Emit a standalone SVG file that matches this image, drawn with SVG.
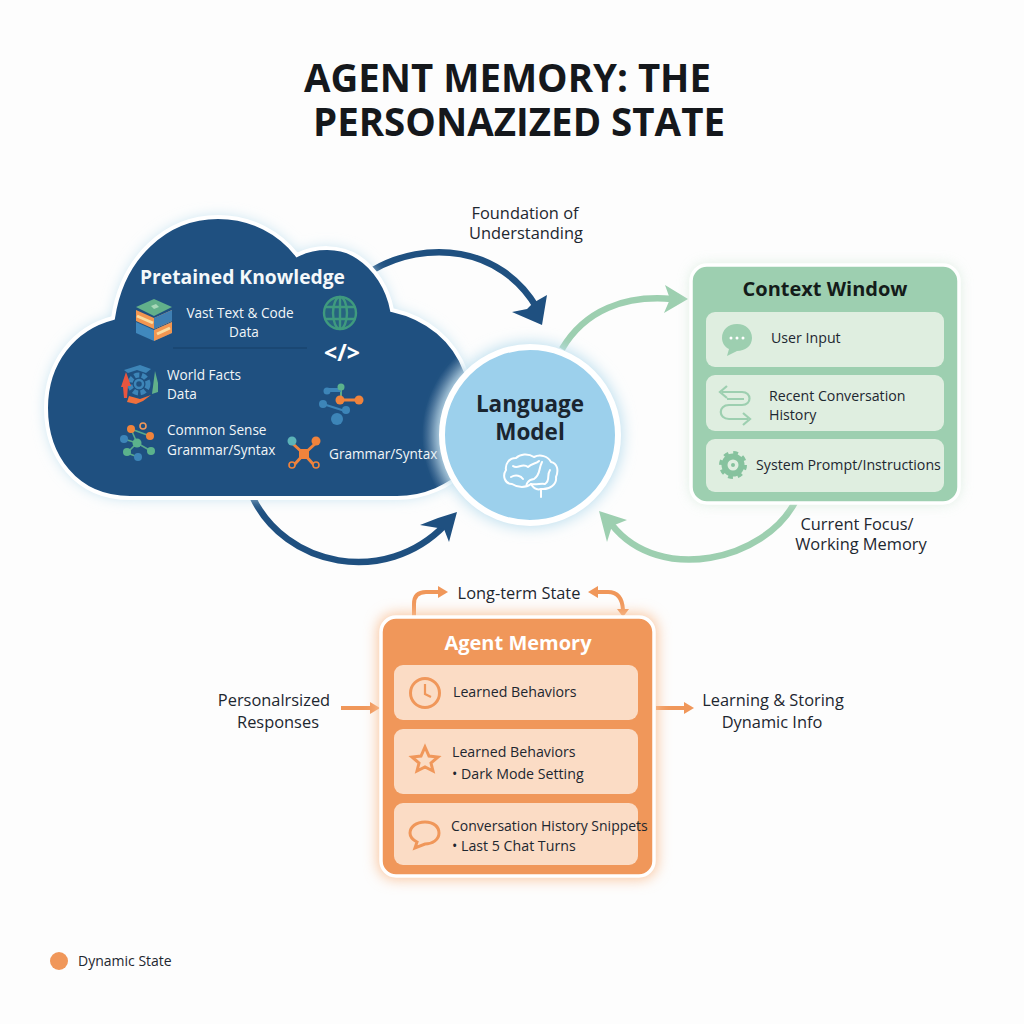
<svg xmlns="http://www.w3.org/2000/svg" width="1024" height="1024" viewBox="0 0 1024 1024">
<defs>
<style>
text{font-family:"Open Sans","Noto Sans","Liberation Sans",sans-serif;fill:#1d2730}
.t{font-size:14.2px}.w{fill:#f2f6f8;font-size:13.6px}
.b{font-size:16.4px}
.row{fill:#dfeee0}.orow{fill:#fbdcc5}
.na{fill:none;stroke:#1f5080;stroke-width:6.5}
.ga{fill:none;stroke:#9dcfb0;stroke-width:6.5}
.oa{fill:none;stroke:#f0975a;stroke-width:4}
.gi{fill:none;stroke:#9dcfb0;stroke-width:3}
.oi{fill:none;stroke:#f0975a;stroke-width:3}
</style>
<filter id="glow" x="-20%" y="-20%" width="140%" height="140%"><feGaussianBlur stdDeviation="7"/></filter>
<radialGradient id="halo" gradientUnits="userSpaceOnUse" cx="530" cy="435" r="108"><stop offset=".78" stop-color="#dbe8ef" stop-opacity=".6"/><stop offset="1" stop-color="#dbe8ef" stop-opacity="0"/></radialGradient>
<path id="cloud" d="M130 498C75 498 46 455 46 408C46 362 74 328 113 318C122 258 165 217 218 217C252 217 280 233 297 255C315 246 340 245 358 257C375 268 388 288 392 310C428 318 454 340 466 372L466 470C450 486 425 498 397 498Z"/>
<clipPath id="cloudclip"><use href="#cloud"/></clipPath>
</defs>
<rect width="1024" height="1024" fill="#fdfdfd"/>
<g style="font-size:39px;font-weight:700">
<text x="304" y="92" textLength="407" lengthAdjust="spacingAndGlyphs" style="fill:#15181c">AGENT MEMORY: THE</text>
<text x="313" y="136" textLength="412" lengthAdjust="spacingAndGlyphs" style="fill:#15181c">PERSONAZIZED STATE</text>
</g>

<g id="connectors">
<path class="na" d="M373 270C425 240 500 245 537 308"/>
<path fill="#1f5080" d="M547 295L542 325L512 312L527 309L533 303Z"/>
<path class="na" d="M252 496C285 567 385 587 445 525"/>
<path fill="#1f5080" d="M457 512L449 542L444 529L420 525L438 518Z"/>
<path class="ga" d="M562 349C585 310 625 295 672 299"/>
<path fill="#9dcfb0" d="M665 285L688 299L664 313L670 299Z"/>
<path class="ga" d="M795 502C765 560 660 585 612 525"/>
<path fill="#9dcfb0" d="M599 511L627 520L612 526L607 542Z"/>
<path class="oa" d="M414 616V604Q414 592 426 592H440"/>
<path fill="#f0975a" d="M438 586L448 592L438 598Z"/>
<path class="oa" d="M596 592H608Q622 592 623 610"/>
<path fill="#f0975a" d="M598 586L588 592L598 598ZM617 609H629L623 617Z"/>
<path class="oa" d="M341 708H370"/><path fill="#f0975a" d="M370 702L380 708L370 714Z"/>
<path class="oa" d="M656 708H684"/><path fill="#f0975a" d="M684 702L694 708L684 714Z"/>
</g>

<g id="pretained-knowledge">
<use href="#cloud" fill="#bfe0ef" filter="url(#glow)"/>
<use href="#cloud" fill="#1f5080" stroke="#fff" stroke-width="4"/>
<circle cx="530" cy="435" r="108" fill="url(#halo)" clip-path="url(#cloudclip)"/>
<text x="140" y="284" textLength="205" lengthAdjust="spacingAndGlyphs" style="font-size:20px;font-weight:700;fill:#f4f8fa">Pretained Knowledge</text>
<text x="240" y="318" text-anchor="middle" class="w">Vast Text &amp; Code</text>
<text x="244" y="337" text-anchor="middle" class="w">Data</text>
<path d="M173 348H307" stroke="#173f67" stroke-width="1.2"/>
<text x="167" y="380" class="w">World Facts</text><text x="167" y="399" class="w">Data</text>
<text x="167" y="435" class="w">Common Sense</text><text x="167" y="455" class="w">Grammar/Syntax</text>
<text x="329" y="459" class="w">Grammar/Syntax</text>
<g>
<path d="M136 322L154 330L172 322V333L154 341L136 333Z" fill="#4088bd"/>
<path d="M154 330L172 322V333L154 341Z" fill="#f29650"/>
<path d="M157 334L170 328" stroke="#f8dca0" stroke-width="3"/>
<path d="M136 310L154 318L172 310V321L154 329L136 321Z" fill="#f29650"/>
<path d="M154 318L172 310V321L154 329Z" fill="#3f7fb3"/>
<path d="M137 316L153 323" stroke="#f8dca0" stroke-width="3"/>
<path d="M136 307L154 299L172 307L154 316Z" fill="#62b08a"/>
<path d="M151 306L156 304L159 307L154 309Z" fill="#a8d8b8"/>
</g>
<g fill="none" stroke="#3f9a7e" stroke-width="2.4">
<circle cx="340" cy="313" r="16" fill="#3f9a7e" fill-opacity=".25"/>
<ellipse cx="340" cy="313" rx="7" ry="16"/><path d="M340 297V329M325 307H355M325 319H355"/>
</g>
<text x="342" y="361" text-anchor="middle" style="font-size:23px;font-weight:700;fill:#fff">&lt;/&gt;</text>
<g>
<circle cx="139" cy="384" r="9" fill="none" stroke="#3d85b8" stroke-width="5" stroke-dasharray="5 2.5"/>
<circle cx="139" cy="384" r="4" fill="none" stroke="#3d85b8" stroke-width="2.5"/>
<path d="M121 387L126 372L131 386H128L127 398H124L123 387Z" fill="#e8553f"/>
<path d="M152 394L155 371L158 383L158 392Z" fill="#62b08a"/>
<path d="M129 396L140 399L151 395L143 401L136 404L127 402Z" fill="#f0703c"/>
<path d="M124 370L140 365L151 369L146 373L137 370L128 373Z" fill="#3d85b8"/>
</g>
<g stroke-width="1.6" fill="none">
<path d="M137 443L131 429M137 443L127 453M137 443L151 451M127 453L138 457M124 439L137 443M131 429L150 436" stroke="#5aa98a"/>
<circle cx="143" cy="426" r="3" stroke="#f0975a"/>
</g>
<g>
<circle cx="131" cy="429" r="4" fill="#f0833c"/><circle cx="150" cy="436" r="4" fill="#f0833c"/>
<circle cx="124" cy="439" r="4" fill="#3d85b8"/><circle cx="137" cy="443" r="4.5" fill="#5bb28c"/>
<circle cx="127" cy="452" r="4" fill="#5bb28c"/><circle cx="151" cy="451" r="4" fill="#5bb28c"/>
<circle cx="138" cy="457" r="4" fill="#3d85b8"/>
</g>
<g>
<path d="M341 398V389" stroke="#5aa98a" stroke-width="2"/>
<path d="M340 400H358" stroke="#f0833c" stroke-width="3"/>
<path d="M323 404L345 411" stroke="#3d85b8" stroke-width="2"/>
<path d="M326 390H341" stroke="#3d85b8" stroke-width="4"/>
<circle cx="341" cy="387" r="3.5" fill="#5bb28c"/><circle cx="340" cy="400" r="4.5" fill="#f0833c"/><circle cx="359" cy="400" r="4.5" fill="#f0833c"/>
<circle cx="323" cy="404" r="4" fill="#3d85b8"/><circle cx="346" cy="410" r="4" fill="#3d85b8"/><circle cx="337" cy="419" r="6" fill="#3d85b8"/>
<circle cx="327" cy="391" r="3.5" fill="#3d85b8"/>
</g>
<g>
<path d="M292 443L304 454M316 443L304 454M294 465L304 454M314 465L304 454" stroke="#f0833c" stroke-width="3"/>
<rect x="299" y="449" width="10" height="10" fill="#f0833c"/>
<circle cx="292" cy="441" r="4.5" fill="#5cb3b8"/><circle cx="316" cy="441" r="4.5" fill="#f0833c"/>
<circle cx="292" cy="465" r="3" fill="#1f5080" stroke="#f0833c" stroke-width="1.6"/><circle cx="316" cy="465" r="3" fill="#1f5080" stroke="#f0833c" stroke-width="1.6"/>
</g>
</g>

<g id="language-model">
<circle cx="530" cy="435" r="93" fill="#bfe0ef" filter="url(#glow)"/>
<circle cx="530" cy="435" r="88" fill="#9cd0ec" stroke="#fff" stroke-width="6"/>
<text x="530" y="412" text-anchor="middle" style="font-size:22.5px;font-weight:700;fill:#1a2530">Language</text>
<text x="530" y="440" text-anchor="middle" style="font-size:22.5px;font-weight:700;fill:#1a2530">Model</text>
<g fill="none" stroke="#fff" stroke-width="2" stroke-linecap="round" stroke-linejoin="round">
<path d="M541 497V489C550 490 557 484 556 477C559 470 557 463 551 462C548 456 540 454 534 457C528 453 520 454 516 458C509 458 505 464 506 470C502 476 505 484 512 484C518 488 526 488 531 484C534 489 538 490 541 489"/>
<path d="M513 466C518 470 522 462 528 467C532 463 536 464 539 461M511 477C516 474 521 476 523 479M542 462C538 470 541 474 534 479C527 480 526 485 527 486M550 470C546 476 551 480 545 484M531 484C537 485 541 483 545 484"/>
</g>
</g>

<g id="context-window">
<rect x="691" y="265" width="268" height="238" rx="16" fill="#cfe7d6" filter="url(#glow)" opacity=".8"/>
<rect x="691" y="265" width="268" height="238" rx="16" fill="#9dcfb0" stroke="#fff" stroke-width="3.5"/>
<text x="825" y="296" text-anchor="middle" style="font-size:20px;font-weight:700;fill:#141c1a">Context Window</text>
<rect class="row" x="706" y="312" width="238" height="55" rx="9"/>
<rect class="row" x="706" y="375" width="238" height="56" rx="9"/>
<rect class="row" x="706" y="439" width="238" height="53" rx="9"/>
<text x="771" y="343" class="t">User Input</text>
<text x="769" y="401" class="t">Recent Conversation</text>
<text x="769" y="420" class="t">History</text>
<text x="756" y="470" class="t">System Prompt/Instructions</text>
<path d="M737 324C746 324 752 330 752 338C752 346 745 351 737 351L727 356L729 349C725 347 722 343 722 338C722 330 728 324 737 324Z" fill="#9dcfb0"/>
<circle cx="731" cy="338" r="1.5" fill="#fff"/><circle cx="737" cy="338" r="1.5" fill="#fff"/><circle cx="743" cy="338" r="1.5" fill="#fff"/>
<path class="gi" style="stroke-width:2.2" d="M722 392H742C752 392 752 405 742 405H729C718 405 718 419 729 419H748M727 386L720 392L727 398M743 413L750 419L743 425M727 399H744"/>
<g transform="translate(733 465)"><circle r="8.5" fill="none" stroke="#86c29e" stroke-width="6"/><circle r="12" fill="none" stroke="#86c29e" stroke-width="4" stroke-dasharray="4.7 4.7"/><circle r="2" fill="#86c29e"/></g>
</g>

<g id="agent-memory">
<rect x="378" y="614" width="279" height="265" rx="17" fill="#f9c39a" filter="url(#glow)"/>
<rect x="381" y="617" width="273" height="259" rx="15" fill="#f0975a" stroke="#fff" stroke-width="3.5"/>
<text x="518" y="650" text-anchor="middle" style="font-size:20px;font-weight:700;fill:#fff">Agent Memory</text>
<rect class="orow" x="394" y="665" width="244" height="55" rx="9"/>
<rect class="orow" x="394" y="729" width="244" height="65" rx="9"/>
<rect class="orow" x="394" y="803" width="244" height="62" rx="9"/>
<text x="453" y="697" class="t">Learned Behaviors</text>
<text x="452" y="757" class="t">Learned Behaviors</text>
<text x="452" y="779" class="t">•  Dark Mode Setting</text>
<text x="451" y="831" class="t" style="font-size:14px">Conversation History Snippets</text>
<text x="452" y="851" class="t">• Last 5 Chat Turns</text>
<circle class="oi" cx="425" cy="693" r="14.5"/><path class="oi" style="stroke-width:2.2" d="M425 684V694L431 697"/>
<path class="oi" d="M425 747L429 756L438 757L431 763L433 771L425 767L417 771L419 763L412 757L421 756Z"/>
<path class="oi" d="M425 822C434 822 439 827 439 833C439 840 432 844 425 844L415 848L417 842C413 840 410 837 410 833C410 827 416 822 425 822Z"/>
</g>

<g id="labels">
<text x="525" y="219" text-anchor="middle" class="b">Foundation of</text>
<text x="526" y="239" text-anchor="middle" class="b">Understanding</text>
<text x="857" y="530" text-anchor="middle" class="b">Current Focus/</text>
<text x="861" y="550" text-anchor="middle" class="b">Working Memory</text>
<text x="519" y="599" text-anchor="middle" class="b">Long-term State</text>
<text x="274" y="706" text-anchor="middle" class="b">Personalrsized</text>
<text x="278" y="728" text-anchor="middle" class="b">Responses</text>
<text x="773" y="706" text-anchor="middle" class="b">Learning &amp; Storing</text>
<text x="772" y="728" text-anchor="middle" class="b">Dynamic Info</text>
</g>

<g id="legend">
<circle cx="59" cy="961" r="9" fill="#f0975a"/>
<text x="78" y="966" style="font-size:14px">Dynamic State</text>
</g>
</svg>
